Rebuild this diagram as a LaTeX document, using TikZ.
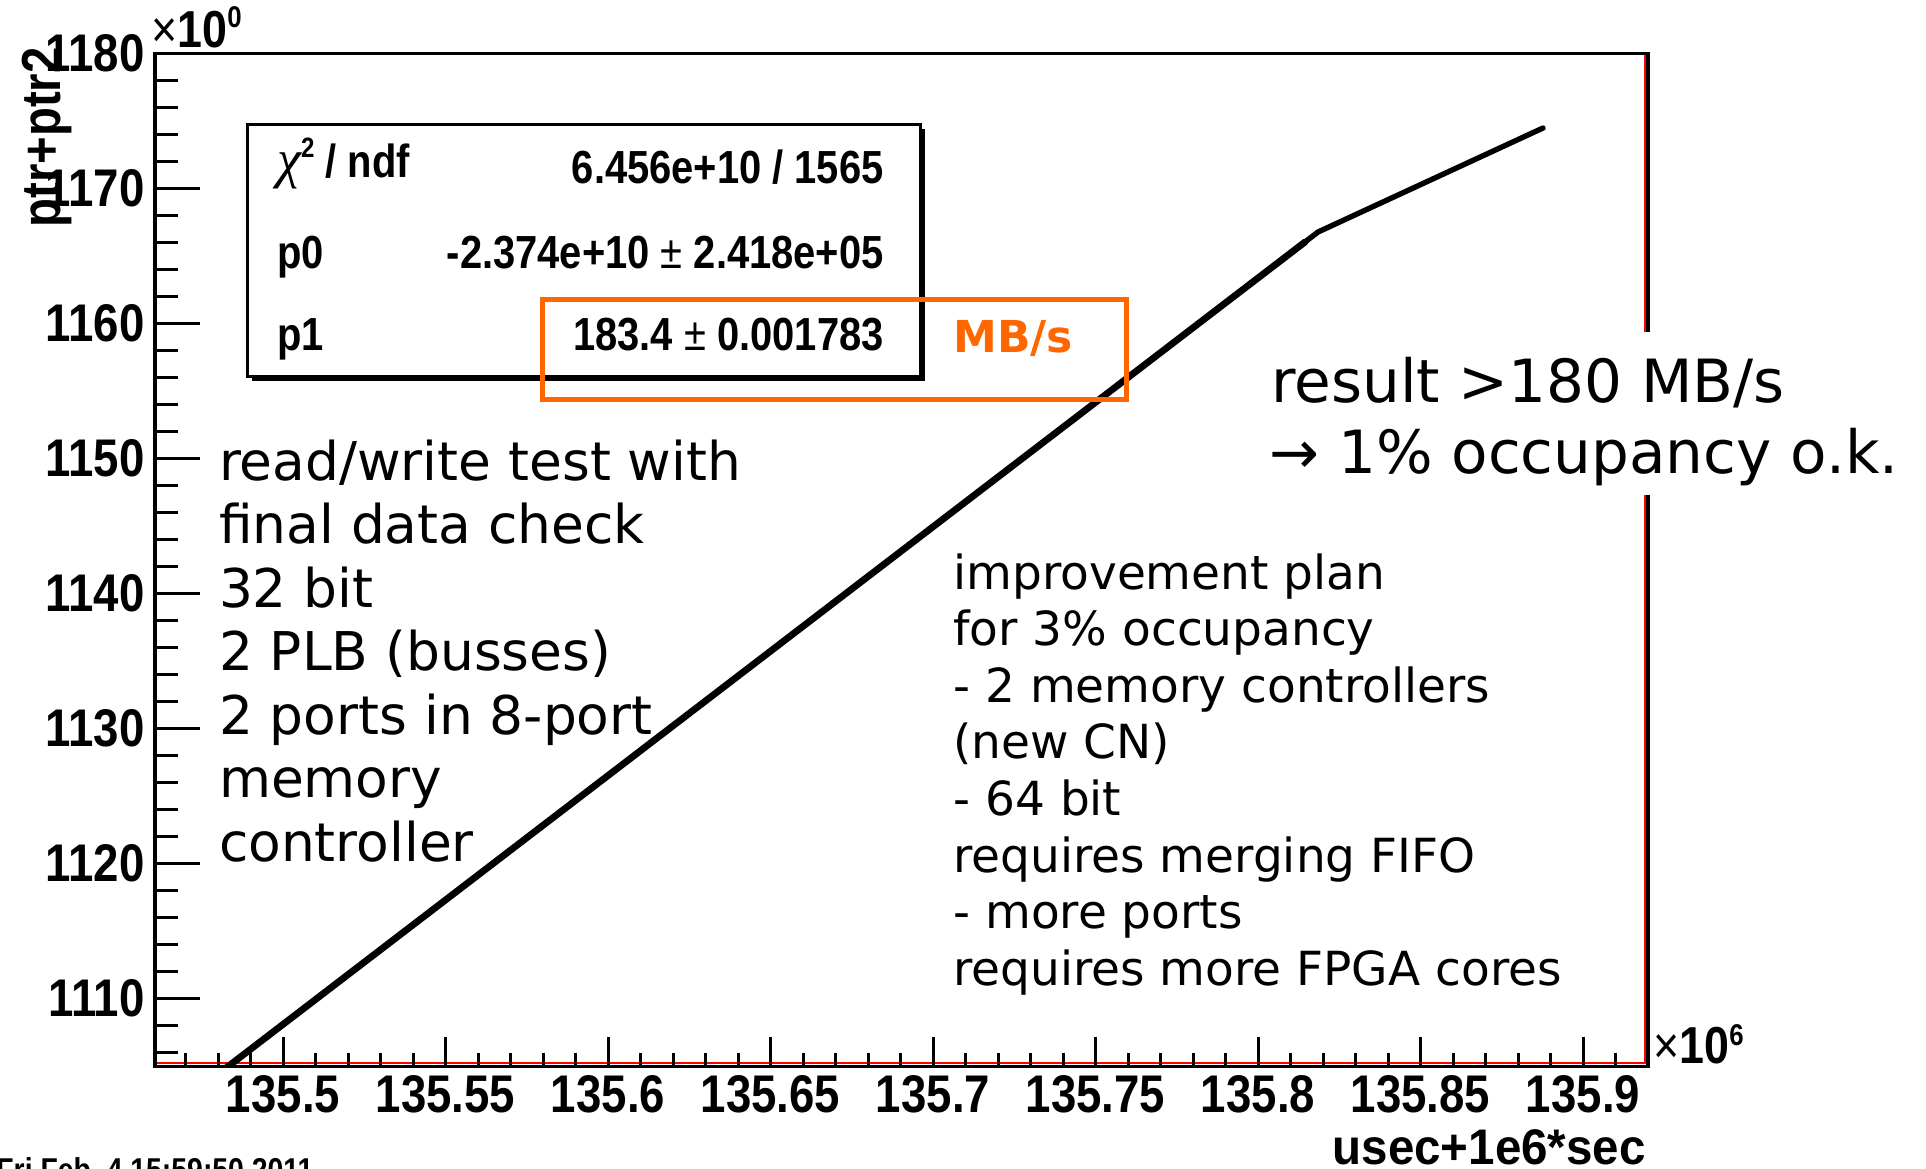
\documentclass[tikz,border=0pt]{standalone}
\usepackage{fontspec}
\newfontfamily\rootfont[FakeStretch=0.86]{Liberation Sans}
\newfontfamily\titlefont[FakeStretch=0.95]{Liberation Sans}
\newfontfamily\verd{DejaVu Sans}
\newfontfamily\chifont{Liberation Serif}
\definecolor{orng}{RGB}{255,102,0}
\tikzset{
  tick/.style={line width=1.5pt},
  axlab/.style={font=\rootfont\bfseries\fontsize{26.5}{26.5}\selectfont, inner sep=0pt},
  ttl/.style={font=\rootfont\bfseries\fontsize{27.5}{27.5}\selectfont, inner sep=0pt},
  xttl/.style={font=\titlefont\bfseries\fontsize{25}{25}\selectfont, inner sep=0pt},
  multlab/.style={font=\rootfont\fontsize{26}{26}\selectfont, inner sep=0pt, anchor=base west},
  stat/.style={font=\rootfont\bfseries\fontsize{23.2}{23.2}\selectfont, inner sep=0pt},
  datef/.style={font=\rootfont\bfseries\fontsize{16.5}{16.5}\selectfont, inner sep=0pt, anchor=base west},
  noteL/.style={font=\verd\fontsize{26.7}{32}\selectfont, inner sep=0pt, anchor=base west},
  noteM/.style={font=\verd\fontsize{23.5}{28}\selectfont, inner sep=0pt, anchor=base west},
  noteR/.style={font=\verd\fontsize{29.8}{36}\selectfont, inner sep=0pt, anchor=base west},
  unitlab/.style={font=\verd\bfseries\fontsize{22}{22}\selectfont, text=orng, inner sep=0pt, anchor=base west},
}
\begin{document}
\begin{tikzpicture}[x=0.5pt,y=-0.5pt]
\useasboundingbox (0,0) rectangle (1926,1168);
\clip (0,0) rectangle (1926,1168);
\fill[white] (0,0) rectangle (1926,1168);

% red edges of the graph
\draw[red, line width=1.1pt] (157,1063) -- (1645,1063) -- (1645,55);

% data curve
\coordinate (c0) at (226,1068);
\coordinate (c1) at (1305,242);
\coordinate (c2) at (1318,232);
\coordinate (c3) at (1543,128);
\begin{scope}
  \clip (155,53.5) rectangle (1648,1064);
  \draw[line width=3.4pt, line cap=round] (c0) -- (c1);
  \draw[line width=2.7pt, line cap=round, line join=round] (c1) -- (c2) -- (c3);
\end{scope}

% frame
\draw[line width=1.75pt] (155,53.5) rectangle (1648,1066.5);

% y ticks and labels
\foreach \v in {1106,1108,...,1178} {
  \draw[tick] (155,{53.5+(1180-\v)*13.5}) -- ++(23,0);
}
\foreach \v in {1110,1120,...,1170} {
  \draw[tick] (155,{53.5+(1180-\v)*13.5}) -- ++(45,0);
}
\foreach \v in {1110,1120,...,1180} {
  \node[axlab, anchor=east] (y\v) at (145,{53.5+(1180-\v)*13.5}) {\v};
}

% x ticks and labels
\foreach \k in {-3,...,41} {
  \draw[tick] ({283+32.5*\k},1066.5) -- ++(0,-14);
}
\foreach \k/\t in {0/135.5,5/135.55,10/135.6,15/135.65,20/135.7,25/135.75,30/135.8,35/135.85,40/135.9} {
  \draw[tick] ({283+32.5*\k},1066.5) -- ++(0,-30);
  \node[axlab, anchor=north] (x\k) at ({283+32.5*\k},1075) {\t};
}

% multipliers and titles
\node[multlab] (multy) at (151,47) {×\textbf{10}\raisebox{10pt}{\bfseries\fontsize{15}{15}\selectfont 0}};
\node[multlab] (multx) at (1653,1063) {×\textbf{10}\raisebox{9pt}{\bfseries\fontsize{15}{15}\selectfont 6}};
\node[ttl, rotate=90, anchor=north east] (ytitle) at (22,47) {ptr+ptr2};
\node[xttl, anchor=base east] (xtitle) at (1646,1164) {usec+1e6*sec};
\node[datef] (date) at (-4,1181) {Fri Feb\ \ 4 15:59:50 2011};

% stats box
\fill (252,129) rectangle (925,381);
\draw[line width=1.5pt, fill=white] (247,124) rectangle (920,376);
\node[stat, anchor=base west] (chi) at (277,177) {{\chifont\mdseries\itshape\fontsize{27}{27}\selectfont χ}\raisebox{10pt}{\fontsize{14}{14}\selectfont 2} / ndf};
\node[stat, anchor=base east] (chiv) at (884,183) {6.456e+10 / 1565};
\node[stat, anchor=base west] (p0) at (277,268) {p0};
\node[stat, anchor=base east] (p0v) at (884,268) {-2.374e+10 {\mdseries ±} 2.418e+05};
\node[stat, anchor=base west] (p1) at (277,350) {p1};
\node[stat, anchor=base east] (p1v) at (884,350) {183.4 {\mdseries ±} 0.001783};

% highlight
\draw[orng, line width=2.5pt] (542,299) rectangle (1126,399);
\node[unitlab] (unit) at (953,352) {MB/s};

% notes
\foreach \t [count=\i from 0] in {read/write test with, final data check, 32 bit, 2 PLB (busses), 2 ports in 8-port, memory, controller} {
  \node[noteL] (left\i) at (218.6,{480+63.5*\i}) {\t};
}
\foreach \t [count=\i from 0] in {improvement plan, for 3\% occupancy, - 2 memory controllers, (new CN), - 64 bit, requires merging FIFO, - more ports, requires more FPGA cores} {
  \node[noteM] (mid\i) at (953,{589+56.6*\i}) {\t};
}
\fill[white] (1250,332) rectangle (1926,495);
\node[noteR] (res1) at (1271,402) {result >180 MB/s};
\node[noteR] (res2) at (1269,473) {→ 1\% occupancy o.k.};
\end{tikzpicture}
\end{document}
